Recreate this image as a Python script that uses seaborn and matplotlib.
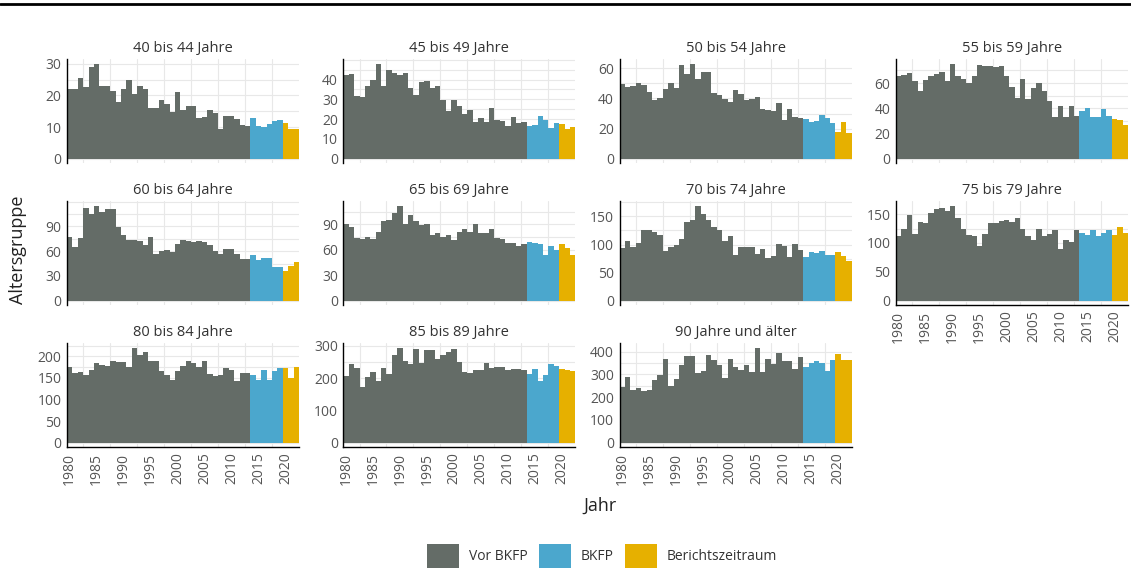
import numpy as np
import pandas as pd
import seaborn as sns
import matplotlib.pyplot as plt
from matplotlib.patches import Patch
from matplotlib.lines import Line2D
from matplotlib.ticker import MultipleLocator, FixedLocator

sns.set_style("white")
plt.rcParams['font.family'] = ['Open Sans', 'DejaVu Sans']

jahre = list(range(1980, 2023))

gruppen = ["40 bis 44 Jahre", "45 bis 49 Jahre", "50 bis 54 Jahre", "55 bis 59 Jahre",
           "60 bis 64 Jahre", "65 bis 69 Jahre", "70 bis 74 Jahre", "75 bis 79 Jahre",
           "80 bis 84 Jahre", "85 bis 89 Jahre", "90 Jahre und älter"]

w40 = [22, 22, 25.5, 22.5, 29, 30, 23, 23, 21.3, 18, 22, 25, 20.3, 23, 22, 16, 16, 18.5, 17.2, 14.8,
       21, 15.4, 16.5, 16.5, 13, 13.3, 15.4, 14.3, 9.3, 13.5, 13.5, 12.6, 10.7, 10.4,
       13, 10.2, 10.1, 11, 11.9, 12.3,
       11.4, 9.5, 9.5]
w45 = [42.3, 43, 31.8, 31, 37, 40, 48, 37, 44.7, 43.4, 42.4, 43.3, 35.6, 32.3, 38.7, 39.2, 35.6, 36.6, 29.7, 24,
       29.7, 26.6, 22.8, 24.4, 18.8, 20.8, 18.8, 25.7, 19.8, 19, 16.3, 21.3, 18.2, 18.8,
       16.5, 17.1, 21.8, 19.8, 15.5, 18,
       17.5, 15.1, 16]
w50 = [49.5, 47.7, 48.4, 50.1, 48.8, 44, 39, 40.2, 46.2, 50.5, 46.8, 62, 56.5, 63, 53.2, 57.6, 57.6, 43.5, 42.2, 39.6,
       37.4, 45.5, 42.9, 39.1, 39.6, 40.7, 33, 32.3, 31.9, 36.9, 25.9, 33, 27.9, 26.8,
       26.4, 24.6, 25.3, 29, 27.3, 23.7,
       18, 24.6, 16.9]
w55 = [65.8, 66.6, 67.6, 61.3, 53.8, 62.6, 65.3, 67.1, 68.4, 61.8, 75.3, 65.3, 63.1, 60, 65.3, 74.5, 73.7, 73.7, 72.4, 73.7,
       65.8, 56.5, 48.5, 63.1, 47.2, 55.7, 60, 53.6, 45.9, 33.4, 41.9, 33.2, 41.9, 34,
       37.9, 40, 33.2, 33.2, 39.8, 34,
       31.8, 30.5, 26.8]
w60 = [77, 65, 76, 112.5, 105, 115, 107, 111, 111, 89, 79, 74, 74, 72, 67, 77, 57, 60.5, 61, 59,
       69, 73, 72, 71, 72.5, 71, 68, 60.5, 57, 62.5, 62.5, 56, 50, 50.5,
       55, 49, 52, 52, 40.5, 41,
       36.5, 42.5, 47]
w65 = [90, 86.5, 74.5, 73, 75.2, 73, 81, 94, 95, 104, 112, 90.5, 101, 94, 89.5, 90, 77.6, 80, 75, 78,
       71.7, 81, 84.5, 81, 90, 80, 80, 84.5, 74.5, 73, 68.5, 67.7, 64, 67,
       69.7, 68.5, 66.9, 54.5, 64, 59.5,
       67, 62.6, 53.5]
w70 = [94, 106, 96, 103, 125, 125, 122, 116.5, 89, 96, 99, 110.5, 140, 144, 169, 153.5, 144, 132, 126.5, 106.5,
       114.7, 81, 95, 95, 96, 84, 92, 76, 79.5, 100.5, 97, 78.2, 100.5, 90,
       78.5, 87, 84.5, 89, 81.5, 81.5,
       87, 79.5, 71.5]
w75 = [111.5, 125, 149, 115.5, 136, 134, 152, 159, 161, 156, 164.5, 142.5, 123.5, 114, 112, 95, 115.5, 134, 134, 138,
       139.5, 137, 142.5, 123.5, 112, 105, 123.5, 112, 115.5, 123, 89, 105, 102, 123,
       118, 114, 123, 112, 117, 123,
       114, 127, 117.5]
w80 = [176, 161, 163, 157, 168, 185, 181, 177, 190, 186, 186, 175, 220, 204, 211, 189, 189, 166, 157, 145,
       167, 177, 190, 184, 176, 190, 160, 154, 157, 173, 168, 144, 161, 161,
       157, 146, 168, 146, 165, 173,
       173, 151, 175]
w85 = [205, 243, 230, 171, 204, 218, 192, 230, 213, 271, 294, 252, 243, 291, 247, 288, 288, 260, 270, 280,
       291, 250, 219, 216, 224, 224, 247, 230, 235, 235, 224, 229, 227, 224,
       212, 227, 192, 209, 245, 237,
       228, 225, 221]
w90 = [246, 287, 232, 239, 228, 232, 275, 297, 368, 249, 278, 343, 382, 382, 304, 316, 387, 365, 343, 283,
       368, 333, 319, 343, 309, 417, 309, 368, 347, 394, 359, 359, 322, 377,
       332, 352, 357, 352, 315, 363,
       391, 365, 365]
werte = [w40, w45, w50, w55, w60, w65, w70, w75, w80, w85, w90]
tick_steps = [10, 10, 20, 20, 30, 30, 50, 50, 50, 100, 100]
tick_max = [30, 40, 60, 60, 90, 90, 150, 150, 200, 300, 400]

zeitraeume = ["Vor BKFP", "BKFP", "Berichtszeitraum"]
farben = ["#646c67", "#4ba7cd", "#e6b000"]


def zeitraum(j):
    if j <= 2013:
        return "Vor BKFP"
    if j <= 2019:
        return "BKFP"
    return "Berichtszeitraum"


rows = []
for g, w in zip(gruppen, werte):
    for j, v in zip(jahre, w):
        rows.append((g, j, v, zeitraum(j)))
df = pd.DataFrame(rows, columns=["Altersgruppe", "Jahr", "Wert", "Zeitraum"])

fig, axes = plt.subplots(3, 4, figsize=(11.31, 5.71), dpi=100)
fig.subplots_adjust(left=67 / 1131, right=1128 / 1131, top=1 - 59 / 571, bottom=1 - 447 / 571,
                    wspace=0.191, hspace=0.365)

grid_col = "#e8e8e8"
for i, (g, step, tmax) in enumerate(zip(gruppen, tick_steps, tick_max)):
    ax = axes.flat[i]
    sub = df[df["Altersgruppe"] == g]
    sns.barplot(data=sub, x="Jahr", y="Wert", hue="Zeitraum", hue_order=zeitraeume,
                palette=farben, native_scale=True, dodge=False, width=1, errorbar=None,
                saturation=1, legend=False, ax=ax)
    for p in ax.patches:
        p.set_linewidth(0)
        p.set_antialiased(False)
    top = sub["Wert"].max()
    ax.set_xlim(1979.5, 2022.5)
    ax.set_ylim(-0.045 * top, 1.05 * top)
    ax.yaxis.set_major_locator(FixedLocator(np.arange(0, tmax + 1, step)))
    ax.yaxis.set_minor_locator(MultipleLocator(step / 2))
    ax.xaxis.set_major_locator(FixedLocator(range(1980, 2021, 5)))
    ax.xaxis.set_minor_locator(FixedLocator(np.arange(1982.5, 2020, 5)))
    ax.set_axisbelow(True)
    ax.grid(which="both", axis="y", color=grid_col, lw=0.8)
    ax.grid(which="minor", axis="x", color=grid_col, lw=0.8)
    ax.set_xlabel("")
    ax.set_ylabel("")
    ax.set_title(g, fontsize=10.5, color="#333333", pad=5)
    ax.tick_params(which="both", length=0, labelsize=10, labelcolor="#555555", pad=4)
    ax.tick_params(axis="x", labelrotation=90)
    for s in ["top", "right"]:
        ax.spines[s].set_visible(False)
    ax.spines["left"].set_color("black")
    ax.spines["left"].set_linewidth(1)
    unten = i >= 7
    if unten:
        ax.spines["bottom"].set_color("black")
        ax.spines["bottom"].set_linewidth(1)
    else:
        ax.spines["bottom"].set_visible(False)
        ax.tick_params(axis="x", labelbottom=False)

axes.flat[11].set_visible(False)

fig.text(18 / 1131, 1 - 250 / 571, "Altersgruppe", rotation=90, ha="center", va="center",
         fontsize=13, color="#222222")
fig.text(600 / 1131, 1 - 506 / 571, "Jahr", ha="center", va="center", fontsize=13, color="#222222")

handles = [Patch(facecolor=c, edgecolor="none") for c in farben]
fig.legend(handles, zeitraeume, loc="center", bbox_to_anchor=(602 / 1131, 1 - 556 / 571), ncol=3,
           frameon=False, fontsize=10, handlelength=2.3, handleheight=2.3, handletextpad=0.7,
           columnspacing=0.8, labelcolor="#333333")

fig.add_artist(Line2D([0, 1], [1 - 4 / 571, 1 - 4 / 571], color="black", lw=2, transform=fig.transFigure))

fig.savefig("out.png", dpi=100)
